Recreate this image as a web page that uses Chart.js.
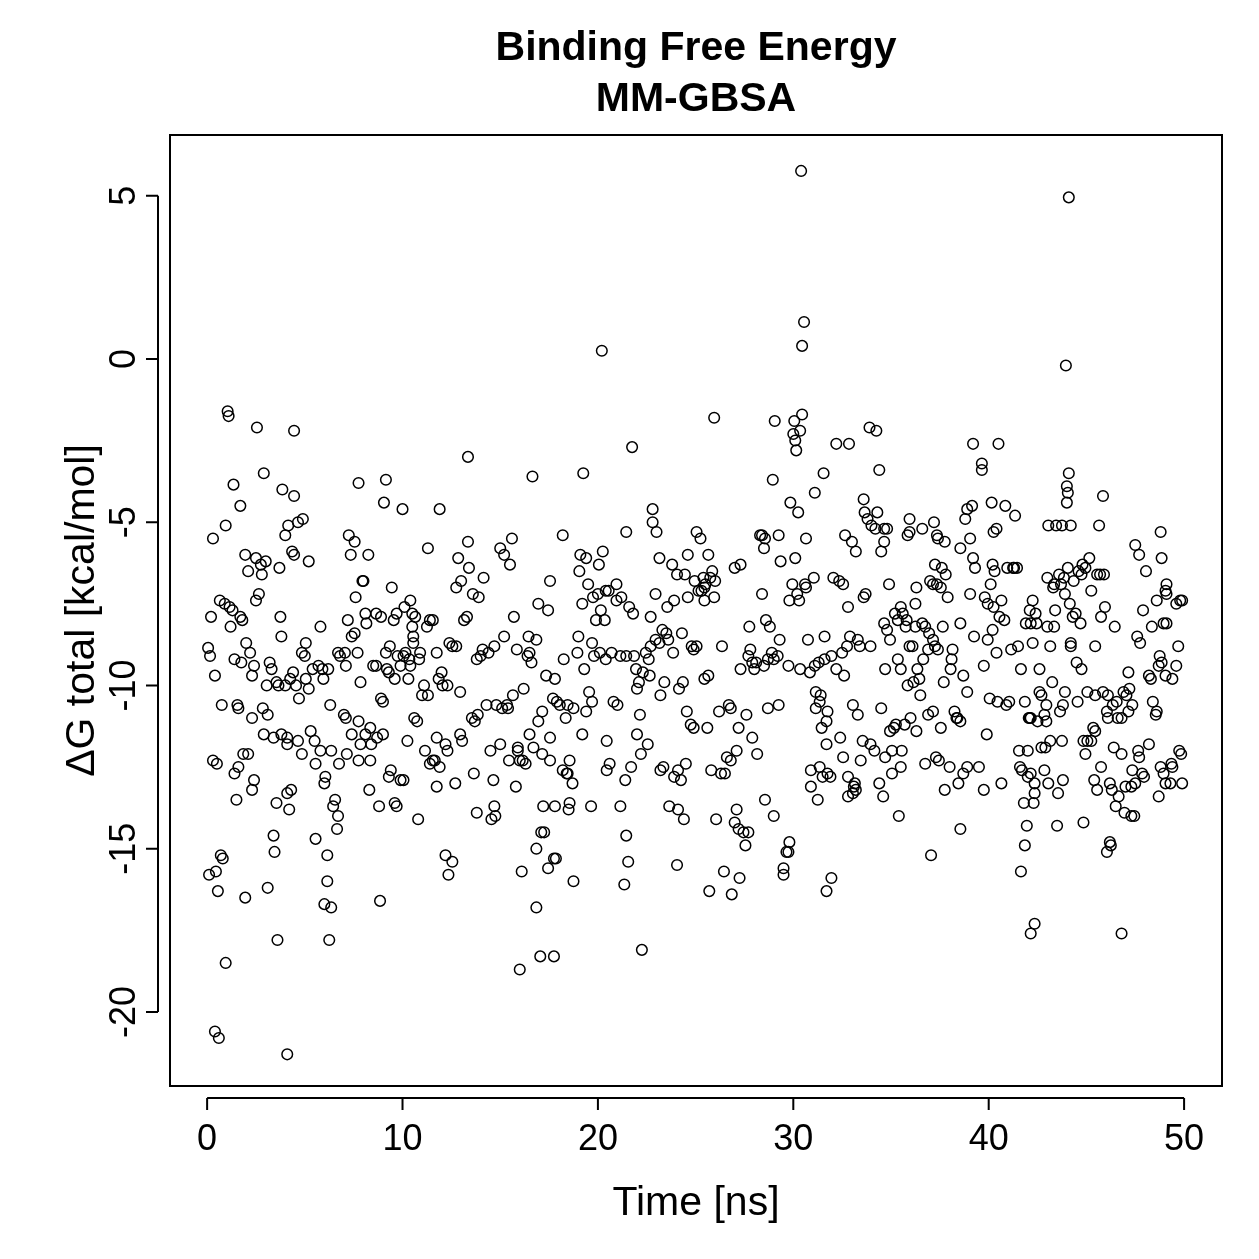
<!DOCTYPE html>
<html>
<head>
<meta charset="utf-8">
<script src="https://cdn.jsdelivr.net/npm/chart.js@4.4.1/dist/chart.umd.min.js"></script>
<style>
html,body{margin:0;padding:0;background:#fff;}
#wrap{width:1259px;height:1259px;position:relative;}
canvas{display:block;}
</style>
</head>
<body>
<div id="wrap"><canvas id="c" width="1259" height="1259"></canvas></div>
<script>
// ---- data ----
const titleLines = ["Binding Free Energy", "MM-GBSA"];
const xTitle = "Time [ns]";
const yTitle = "\u0394G total [kcal/mol]";
const xTicks = [0, 10, 20, 30, 40, 50];
const yTicks = [-20, -15, -10, -5, 0, 5];

const timeNs = [
0.05,0.15,0.1,0.2,0.3,0.3,0.4,0.45,0.4,0.6,0.5,0.55,0.7,0.8,0.65,0.9,0.75,0.95,0.95,1.05,1.1,1.15,1.2,1.3,1.35,1.4,1.4,1.55,1.5,1.6,1.6,1.7,1.7,1.8,1.75,1.85,1.95,1.95,2.0,2.1,
2.1,2.2,2.3,2.3,2.3,2.4,2.4,2.5,2.5,2.55,2.65,2.75,2.8,2.9,3.0,2.85,2.9,3.05,3.1,3.1,3.2,3.3,3.4,3.4,3.45,3.55,3.6,3.55,3.65,3.8,3.7,3.75,3.8,3.85,4.0,4.0,4.1,4.1,4.1,4.1,4.2,4.3,4.25,4.15,4.35,4.45,4.4,4.45,4.45,4.55,4.65,4.65,4.9,4.7,4.85,4.85,
5.0,5.05,5.05,5.2,5.2,5.3,5.4,5.5,5.55,5.55,5.7,5.8,5.8,5.95,5.9,6.0,6.05,6.0,6.15,6.15,6.25,6.35,6.2,6.3,6.35,6.45,6.55,6.65,6.7,6.7,6.75,6.8,7.0,7.05,7.1,7.15,7.1,7.2,7.25,7.35,7.4,7.4,7.55,7.55,7.7,7.6,7.75,7.75,7.85,7.75,7.85,7.95,8.0,8.1,8.1,8.15,8.35,8.25,8.3,8.35,8.5,8.4,8.65,8.65,8.7,8.8,8.85,9.0,8.9,9.0,8.9,9.05,9.15,9.15,9.2,9.3,9.3,9.35,9.4,9.45,9.55,9.6,9.6,9.7,9.7,9.75,9.9,9.9,
10.0,10.05,10.1,10.05,10.15,10.25,10.3,10.35,10.4,10.4,10.5,10.5,10.55,10.55,10.6,10.75,10.8,10.65,10.85,10.9,11.0,11.1,11.15,11.25,11.3,11.3,11.4,11.55,11.4,11.55,11.65,11.75,11.75,11.75,11.9,11.9,11.85,12.0,12.05,12.2,12.2,12.3,12.35,12.3,12.4,12.55,12.55,12.7,12.75,12.85,12.75,12.95,13.0,12.95,13.05,13.15,13.35,13.3,13.35,13.4,13.55,13.6,13.65,13.7,13.8,13.8,13.9,13.85,
14.0,14.15,14.1,14.3,14.4,14.55,14.7,14.5,14.65,14.7,14.8,14.75,15.0,15.1,15.0,15.2,15.2,15.35,15.45,15.4,15.5,15.6,15.8,15.65,15.9,15.7,15.9,16.0,16.0,15.85,16.2,16.15,16.1,16.3,16.4,16.5,16.45,16.5,16.6,16.65,16.7,16.85,16.85,16.85,16.95,16.95,17.1,17.05,17.15,17.15,17.25,17.2,17.35,17.45,17.45,17.55,17.55,17.75,17.85,17.8,17.75,17.55,17.7,17.8,17.9,
18.05,18.2,18.25,18.2,18.4,18.35,18.45,18.5,18.55,18.55,18.45,18.75,18.7,18.75,18.95,19.0,19.1,19.05,19.2,19.25,19.2,19.4,19.3,19.4,19.5,19.55,19.7,19.65,19.7,19.75,19.8,19.9,
20.05,20.0,20.1,20.15,20.2,20.25,20.35,20.4,20.4,20.45,20.45,20.6,20.55,20.7,20.8,21.0,20.95,20.95,21.15,21.15,21.2,21.35,21.45,21.4,21.45,21.45,21.6,21.7,21.75,21.55,21.8,21.95,21.85,22.0,22.0,22.1,22.15,22.25,22.2,22.3,22.45,22.55,22.6,22.7,22.7,22.65,22.8,22.8,22.95,22.95,23.0,23.15,23.2,23.15,23.2,23.3,23.35,23.5,23.55,23.4,23.65,23.6,23.8,23.85,23.9,
24.05,23.9,24.1,24.05,24.15,24.1,24.25,24.3,24.35,24.5,24.4,24.45,24.55,24.6,24.75,24.6,24.8,24.9,24.9,25.05,24.95,25.25,25.15,25.05,25.3,25.4,25.45,25.45,25.5,25.45,25.6,25.65,25.65,25.7,25.75,25.85,25.8,25.95,25.95,26.0,26.05,26.3,26.2,26.45,26.5,26.35,26.6,26.7,26.8,27.0,26.8,26.85,27.0,27.1,27.2,27.1,27.2,27.3,27.25,27.45,27.3,27.7,27.55,27.6,27.7,27.75,27.8,27.9,27.9,
28.0,28.1,28.15,28.3,28.4,28.4,28.5,28.5,28.55,28.6,28.55,28.7,28.7,28.9,28.8,28.95,29.05,29.0,29.0,29.2,29.25,29.35,29.25,29.3,29.5,29.5,29.65,29.75,29.8,29.75,29.8,29.85,30.0,29.95,30.05,30.1,30.15,30.2,30.1,30.25,30.35,30.3,30.35,30.45,30.45,30.55,30.4,30.6,30.65,30.65,30.75,30.85,30.9,30.9,
31.1,31.05,31.1,31.15,31.15,31.25,31.3,31.35,31.35,31.4,31.45,31.5,31.55,31.6,31.6,31.7,31.7,31.75,31.95,31.9,31.7,31.75,31.95,32.05,32.2,32.2,32.35,32.5,32.4,32.55,32.55,32.6,32.65,32.75,32.8,32.85,32.8,32.8,32.9,33.0,33.05,33.1,33.05,33.15,33.2,33.2,33.3,33.4,33.3,33.55,33.6,33.45,33.6,33.65,33.7,33.9,33.8,33.95,33.95,
34.25,34.0,34.15,34.2,34.3,34.4,34.4,34.5,34.5,34.65,34.65,34.6,34.65,34.8,34.8,34.7,34.7,34.9,34.95,34.95,35.05,35.15,35.05,35.2,35.35,35.25,35.35,35.55,35.5,35.5,35.4,35.5,35.7,35.6,35.75,35.85,35.8,35.85,35.95,36.0,35.95,35.95,36.15,36.1,36.3,36.3,36.25,36.35,36.45,36.25,36.5,36.65,36.6,36.6,36.75,36.75,36.9,36.9,37.0,36.95,37.15,37.05,37.15,37.25,37.25,37.2,37.35,37.15,37.3,37.35,37.4,37.45,37.55,37.4,37.55,37.65,37.7,37.75,37.6,37.75,37.8,37.9,
38.0,38.05,38.15,38.1,38.25,38.45,38.4,38.35,38.55,38.55,38.55,38.7,38.55,38.7,38.8,38.9,38.9,38.9,39.05,39.05,39.2,39.15,39.2,39.3,39.25,39.65,39.65,39.5,39.75,39.8,39.75,39.95,39.95,40.05,39.9,40.1,40.2,40.2,40.15,40.25,40.25,40.3,40.4,40.4,40.45,40.5,40.55,40.65,40.65,40.85,40.8,40.95,40.9,
41.05,41.15,41.3,41.35,41.45,41.5,41.25,41.6,41.65,41.85,41.55,41.65,41.7,41.85,41.8,42.05,41.9,41.95,42.1,42.0,42.15,42.15,42.15,42.25,42.0,42.35,42.3,42.15,42.1,42.35,42.25,42.4,42.5,42.35,42.45,42.6,42.6,42.7,42.7,42.85,42.95,42.85,42.95,42.9,43.0,43.05,43.0,43.05,43.15,43.3,43.15,43.25,43.35,43.35,43.4,43.45,43.5,43.55,43.6,43.7,43.65,43.75,43.8,43.85,43.75,43.8,43.9,43.9,
43.95,44.0,44.05,44.0,44.1,44.1,44.05,44.15,44.2,44.2,44.2,44.3,44.35,44.5,44.45,44.55,44.6,44.75,44.7,44.8,44.85,44.85,44.75,44.95,45.05,44.95,45.05,45.25,45.25,45.15,45.35,45.4,45.45,45.45,45.45,45.55,45.55,45.7,45.65,45.75,45.85,45.75,45.85,45.9,
46.05,46.05,45.95,46.1,46.1,46.2,46.25,46.2,46.3,46.35,46.45,46.5,46.4,46.55,46.6,46.8,46.65,46.8,46.9,46.8,46.95,47.0,47.05,47.15,47.2,47.3,47.45,47.15,47.35,47.3,47.35,47.5,47.6,47.5,47.65,47.75,47.85,47.7,47.9,47.7,48.05,47.95,
48.2,48.3,48.2,48.4,48.35,48.55,48.6,48.7,48.6,48.7,48.8,48.8,48.75,48.95,48.85,48.95,49.05,49.1,49.05,49.05,48.85,49.1,49.1,49.4,49.4,49.35,49.3,49.6,49.6,49.7,49.8,49.75,49.85,49.9,49.9
];

const deltaG = [
-8.85,-9.1,-15.8,-7.9,-5.5,-12.3,-9.7,-15.7,-20.6,-20.8,-12.4,-16.3,-15.2,-15.3,-7.4,-7.5,-10.6,-5.1,-18.5,-1.6,-1.75,-7.6,-8.2,-7.7,-3.85,-9.2,-12.7,-10.6,-13.5,-10.7,-12.5,-4.5,-7.9,-8.0,-9.3,-12.1,-16.5,-6.0,-8.7,-12.1,
-6.5,-9.0,-9.7,-11.0,-13.2,-12.9,-9.4,-6.1,-7.4,-2.1,-7.2,-6.3,-6.6,-3.5,-6.2,-10.7,-11.5,-10.0,-16.2,-10.9,-9.3,-9.5,-11.6,-14.6,-15.1,-13.6,-17.8,-9.9,-10.0,-11.5,-6.4,-7.9,-8.5,-4.0,-5.4,-10.0,-11.6,-11.8,-13.3,-21.3,-13.8,-13.2,-9.8,-5.1,-5.9,-6.0,-9.6,-4.2,-2.2,-10.0,-11.7,-5.0,-4.9,-10.4,-9.0,-12.1,
-9.1,-8.7,-9.8,-10.1,-6.2,-11.4,-9.5,-11.7,-12.4,-14.7,-9.4,-8.2,-12.0,-9.8,-9.5,-13.0,-12.8,-16.7,-15.2,-16.0,-17.8,-16.8,-9.5,-10.6,-12.0,-13.7,-13.5,-14.4,-14.0,-9.0,-12.4,-9.1,-10.9,-9.0,-11.0,-12.1,-9.4,-8.0,-5.4,-6.0,-11.5,-8.5,-8.4,-5.6,-9.0,-7.3,-11.1,-12.3,-11.8,-3.8,-9.9,-6.8,-6.8,-11.5,-7.8,-8.1,-11.3,-6.0,-13.2,-12.3,-9.4,-11.8,-7.8,-9.4,-11.6,-13.7,-16.6,-11.5,-10.4,-10.5,-7.9,-4.4,-9.0,-3.7,-9.5,-12.8,-9.6,-8.8,-12.6,-7.0,-8.0,-9.8,-13.6,-13.7,-7.8,-9.1,-9.4,-12.9,
-4.6,-12.9,-7.6,-9.1,-9.0,-11.7,-9.8,-9.2,-9.4,-7.4,-7.8,-8.2,-8.5,-8.7,-11.0,-11.1,-14.1,-7.9,-9.2,-9.0,-10.3,-10.0,-12.0,-8.2,-5.8,-10.3,-12.4,-12.3,-8.0,-8.0,-12.3,-9.0,-11.6,-13.1,-12.5,-4.6,-9.8,-9.6,-10.0,-11.8,-15.2,-12.0,-15.8,-10.0,-8.7,-15.4,-8.8,-13.0,-8.8,-6.1,-7.0,-10.2,-6.8,-11.5,-11.7,-8.0,-5.6,-7.9,-3.0,-6.4,-11.0,-7.2,-12.7,-11.1,-9.2,-13.9,-7.3,-10.9,
-9.1,-6.7,-8.9,-10.6,-9.0,-14.1,-13.7,-12.0,-12.9,-8.8,-10.6,-14.0,-5.8,-10.7,-11.8,-6.0,-8.5,-10.6,-12.3,-10.7,-6.3,-5.5,-13.1,-10.3,-12.0,-7.9,-11.9,-12.3,-18.7,-8.9,-10.1,-12.3,-15.7,-12.4,-9.1,-9.0,-8.5,-11.5,-9.3,-3.6,-11.9,-8.6,-15.0,-16.8,-7.5,-11.1,-14.5,-18.3,-10.8,-12.1,-14.5,-13.7,-9.7,-15.6,-7.7,-12.3,-11.6,-15.3,-15.3,-13.7,-18.3,-6.8,-10.4,-9.8,-10.5,
-10.6,-5.4,-9.2,-12.6,-12.7,-11.0,-10.6,-13.8,-13.6,-12.3,-12.7,-16.0,-13.0,-10.7,-9.0,-8.5,-6.0,-6.5,-11.5,-3.5,-7.5,-6.1,-9.5,-10.8,-6.9,-10.2,-10.5,-13.7,-8.7,-7.3,-9.1,-8.0,
-6.3,-7.2,-9.0,-7.7,0.25,-5.9,-8.0,-7.1,-9.2,-12.6,-11.7,-12.4,-7.1,-9.0,-10.5,-10.6,-6.9,-7.4,-13.7,-9.1,-7.3,-16.1,-14.6,-12.9,-9.1,-5.3,-7.6,-12.5,-2.7,-15.4,-7.8,-9.5,-9.1,-10.1,-11.5,-9.9,-10.9,-18.1,-12.1,-9.6,-9.0,-11.8,-9.2,-8.8,-7.9,-9.7,-4.6,-5.0,-7.2,-8.6,-5.3,-8.7,-10.3,-6.1,-12.6,-8.3,-12.5,-8.4,-7.6,-9.9,-13.7,-8.6,-6.3,-9.0,-12.8,
-6.6,-7.4,-13.8,-15.5,-10.1,-12.6,-12.9,-8.4,-9.9,-12.4,-14.1,-6.6,-10.8,-6.0,-11.2,-7.3,-8.8,-8.9,-11.3,-5.3,-6.8,-5.5,-7.1,-8.8,-7.1,-6.7,-7.0,-7.4,-6.9,-9.8,-11.3,-9.7,-6.0,-16.3,-6.7,-6.5,-12.6,-1.8,-7.3,-6.8,-14.1,-12.7,-10.8,-15.7,-12.7,-8.8,-12.2,-10.6,-12.3,-6.4,-10.7,-16.4,-14.2,-12.0,-11.3,-13.8,-14.4,-9.5,-15.9,-14.5,-6.3,-14.5,-14.9,-10.9,-9.1,-8.2,-8.9,-11.6,-9.3,
-9.5,-9.3,-12.1,-5.4,-5.4,-7.2,-5.8,-9.4,-13.5,-8.0,-5.5,-10.7,-9.2,-9.0,-8.2,-3.7,-1.9,-9.2,-14.0,-9.1,-10.6,-6.2,-5.4,-8.6,-15.6,-15.8,-15.1,-15.1,-14.8,-9.4,-7.4,-4.4,-2.3,-6.9,-1.9,-2.5,-2.8,-7.2,-6.1,-4.7,-9.5,-7.4,-2.2,-1.7,0.4,1.13,5.76,-6.9,-7.0,-5.5,-8.6,-9.6,-12.6,-13.1,
-4.1,-6.7,-9.4,-10.2,-10.7,-13.5,-9.3,-10.5,-12.5,-10.3,-11.3,-12.8,-3.5,-9.2,-8.5,-16.3,-11.1,-12.7,-15.9,-12.8,-11.8,-10.8,-9.1,-6.7,-9.5,-2.6,-6.8,-9.0,-11.6,-6.9,-12.2,-9.7,-5.4,-8.8,-12.8,-2.6,-7.6,-13.4,-8.5,-5.6,-10.6,-13.1,-13.3,-13.0,-13.2,-5.9,-8.6,-8.8,-10.9,-11.7,-7.3,-12.3,-4.3,-4.7,-7.2,-2.1,-4.9,-11.8,-8.8,
-2.2,-5.1,-12.0,-5.2,-4.7,-3.4,-13.0,-10.7,-5.9,-5.6,-5.2,-13.4,-8.1,-5.2,-8.3,-9.5,-12.2,-6.9,-8.6,-11.4,-12.7,-11.3,-12.0,-7.8,-8.0,-11.2,-9.2,-12.0,-12.5,-7.6,-14.0,-9.5,-11.2,-7.8,-8.2,-5.4,-8.0,-10.0,-8.8,-11.0,-4.9,-5.3,-9.9,-8.8,-11.4,-7.0,-8.2,-9.5,-9.8,-7.5,-10.3,-9.2,-5.2,-8.1,-8.2,-12.4,-10.9,-8.9,-6.8,-8.4,-8.6,-15.2,-10.8,-8.8,-6.3,-5.0,-5.4,-6.9,-12.2,-6.9,-5.5,-12.3,-11.3,-8.9,-7.0,-8.2,-9.9,-13.2,-6.4,-5.6,-6.6,-7.3,
-12.5,-9.5,-8.9,-9.2,-10.8,-13.0,-11.0,-11.0,-14.4,-5.8,-11.1,-12.7,-8.1,-9.7,-4.9,-4.6,-10.2,-12.5,-5.5,-7.2,-2.6,-4.5,-6.1,-6.4,-8.5,-3.4,-3.2,-12.5,-9.4,-7.3,-13.2,-7.5,-8.6,-10.4,-11.5,-6.9,-6.3,-8.3,-4.4,-7.6,-5.3,-6.5,-5.2,-9.0,-10.5,-2.6,-7.9,-13.0,-7.4,-4.5,-8.0,-6.4,-10.6,
-10.5,-8.9,-6.4,-4.8,-6.4,-8.8,-6.4,-12.5,-9.5,-10.5,-12.0,-15.7,-12.6,-14.9,-13.6,-11.0,-8.1,-14.3,-7.7,-12.8,-11.0,-12.7,-8.1,-7.4,-12.0,-13.3,-13.6,-17.6,-11.0,-17.3,-8.7,-7.8,-11.1,-13.0,-8.1,-9.5,-10.2,-10.3,-11.9,-12.6,-10.6,-10.9,-11.1,-11.9,-8.2,-13.0,-6.7,-5.1,-8.8,-7.0,-11.7,-9.9,-6.9,-8.2,-7.7,-5.1,-14.3,-13.3,-6.6,-6.9,-10.8,-11.7,-10.6,-6.7,-5.1,-12.9,-10.2,-7.2,
-0.2,-4.4,-4.1,-3.9,-3.5,4.95,-6.4,-7.5,-8.7,-8.8,-5.1,-7.9,-6.8,-9.3,-7.8,-10.5,-6.5,-6.6,-8.1,-6.3,-11.7,-14.2,-9.5,-12.1,-11.7,-6.4,-10.2,-7.1,-11.7,-6.1,-11.3,-12.9,-11.4,-8.8,-10.3,-6.6,-13.2,-6.6,-5.1,-7.9,-4.2,-12.5,-10.2,-6.6,
-15.1,-10.8,-7.6,-10.3,-11.0,-14.8,-14.9,-13.0,-13.2,-10.6,-8.2,-13.7,-11.9,-10.5,-11.0,-17.6,-13.4,-11.0,-10.2,-12.1,-13.9,-13.1,-10.3,-10.8,-10.1,-14.0,-14.0,-9.6,-10.6,-13.1,-12.6,-5.7,-8.5,-13.0,-12.0,-8.7,-12.7,-6.0,-7.7,-12.2,-6.5,-12.8,
-9.7,-9.8,-11.8,-10.5,-8.2,-10.9,-10.8,-13.4,-7.4,-9.4,-12.5,-5.3,-9.1,-12.7,-6.1,-8.1,-7.1,-6.9,-9.7,-13.0,-9.3,-8.1,-7.2,-12.5,-9.8,-12.4,-13.0,-7.5,-9.4,-8.8,-7.4,-12.0,-12.1,-13.0,-7.4
];

// ---- chart ----
const FONT = '"Liberation Sans", Arial, Helvetica, sans-serif';
const points = timeNs.map((t, i) => ({ x: t, y: deltaG[i] }));

const rAxes = {
  id: 'rAxes',
  afterDraw(chart) {
    const ctx = chart.ctx;
    const a = chart.chartArea;
    const xs = chart.scales.x, ys = chart.scales.y;
    ctx.save();
    ctx.strokeStyle = '#000';
    ctx.fillStyle = '#000';
    ctx.lineWidth = 2;
    // box
    ctx.strokeRect(a.left, a.top, a.right - a.left, a.bottom - a.top);
    // x axis
    const yAx = a.bottom + 12;
    ctx.beginPath();
    ctx.moveTo(xs.getPixelForValue(xTicks[0]), yAx);
    ctx.lineTo(xs.getPixelForValue(xTicks[xTicks.length - 1]), yAx);
    xTicks.forEach(v => {
      const px = xs.getPixelForValue(v);
      ctx.moveTo(px, yAx);
      ctx.lineTo(px, yAx + 12);
    });
    ctx.stroke();
    ctx.font = '36px ' + FONT;
    ctx.textAlign = 'center';
    ctx.textBaseline = 'alphabetic';
    xTicks.forEach(v => {
      ctx.fillText(String(v), xs.getPixelForValue(v), 1150);
    });
    // y axis
    const xAx = a.left - 12;
    ctx.beginPath();
    ctx.moveTo(xAx, ys.getPixelForValue(yTicks[0]));
    ctx.lineTo(xAx, ys.getPixelForValue(yTicks[yTicks.length - 1]));
    yTicks.forEach(v => {
      const py = ys.getPixelForValue(v);
      ctx.moveTo(xAx, py);
      ctx.lineTo(xAx - 12, py);
    });
    ctx.stroke();
    yTicks.forEach(v => {
      ctx.save();
      ctx.translate(135, ys.getPixelForValue(v));
      ctx.rotate(-Math.PI / 2);
      ctx.fillText(String(v), 0, 0);
      ctx.restore();
    });
    // axis titles
    const cx = (a.left + a.right) / 2, cy = (a.top + a.bottom) / 2;
    ctx.font = '41px ' + FONT;
    ctx.fillText(xTitle, cx, 1215);
    ctx.save();
    ctx.translate(94, cy);
    ctx.rotate(-Math.PI / 2);
    ctx.fillText(yTitle, 0, 0);
    ctx.restore();
    // main title
    ctx.font = 'bold 41px ' + FONT;
    ctx.fillText(titleLines[0], cx, 60);
    ctx.fillText(titleLines[1], cx, 111);
    ctx.restore();
  }
};

new Chart(document.getElementById('c'), {
  type: 'scatter',
  data: {
    datasets: [{
      data: points,
      pointStyle: 'circle',
      pointRadius: 5.3,
      pointHoverRadius: 5.3,
      pointBorderWidth: 1.5,
      borderColor: '#000',
      backgroundColor: 'rgba(0,0,0,0)',
      pointBackgroundColor: 'rgba(0,0,0,0)',
      pointBorderColor: '#000'
    }]
  },
  options: {
    responsive: false,
    animation: false,
    devicePixelRatio: 1,
    layout: { padding: { left: 170, top: 135, right: 37, bottom: 173 } },
    plugins: { legend: { display: false }, tooltip: { enabled: false } },
    scales: {
      x: { type: 'linear', min: -1.9, max: 51.94, display: false },
      y: { type: 'linear', min: -22.27, max: 6.86, display: false }
    }
  },
  plugins: [rAxes]
});
</script>
</body>
</html>
